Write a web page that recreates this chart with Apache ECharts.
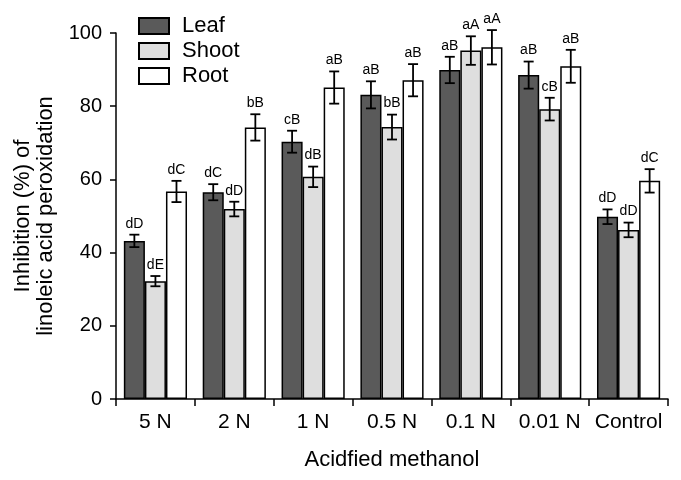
<!DOCTYPE html>
<html>
<head>
<meta charset="utf-8">
<script src="https://cdn.jsdelivr.net/npm/echarts@6/dist/echarts.min.js"></script>
<style>html,body{margin:0;padding:0;background:#fff;}#c{width:681px;height:480px;}</style>
</head>
<body>
<div id="c"></div>
<script>
var categories = ['5 N', '2 N', '1 N', '0.5 N', '0.1 N', '0.01 N', 'Control'];
var seriesNames = ['Leaf', 'Shoot', 'Root'];
var leafValues  = [43.2, 56.5, 70.3, 83.1, 89.9, 88.5, 49.8];
var leafErr     = [1.7, 2.2, 3.0, 3.7, 3.6, 3.7, 2.0];
var leafLetters = ['dD', 'dC', 'cB', 'aB', 'aB', 'aB', 'dD'];
var shootValues  = [32.2, 51.9, 60.7, 74.3, 95.2, 79.2, 46.2];
var shootErr     = [1.4, 2.0, 2.8, 3.4, 3.9, 3.1, 2.0];
var shootLetters = ['dE', 'dD', 'dB', 'bB', 'aA', 'cB', 'dD'];
var rootValues  = [56.7, 74.2, 85.1, 87.1, 96.1, 90.9, 59.6];
var rootErr     = [2.9, 3.6, 4.4, 4.4, 4.7, 4.5, 3.2];
var rootLetters = ['dC', 'bB', 'aB', 'aB', 'aA', 'aB', 'dC'];
var yTicks = [0, 20, 40, 60, 80, 100];

var FONT = 'Liberation Sans, Arial, Helvetica, sans-serif';
var BAR_FRAC = 0.267;
var colors = ['#5a5a5a', '#dedede', '#ffffff'];
var vals = [leafValues, shootValues, rootValues];
var errs = [leafErr, shootErr, rootErr];
var lets = [leafLetters, shootLetters, rootLetters];

function makeRender(k) {
  return function (params, api) {
    var ci = api.value(0), v = api.value(1), e = api.value(2);
    var idx = params.dataIndex;
    var band = api.size([1, 0])[0];
    var bw = band * BAR_FRAC;
    var c = api.coord([ci, v]);
    var x = c[0] + (k - 1) * bw;
    var top = api.coord([ci, v + e])[1];
    var bot = api.coord([ci, v - e])[1];
    var cap = 5;
    var ls = {stroke: '#000', lineWidth: 1.8};
    return {
      type: 'group',
      children: [
        {type: 'line', shape: {x1: x, y1: top, x2: x, y2: bot}, style: ls},
        {type: 'line', shape: {x1: x - cap, y1: top, x2: x + cap, y2: top}, style: ls},
        {type: 'line', shape: {x1: x - cap, y1: bot, x2: x + cap, y2: bot}, style: ls},
        {type: 'text', style: {text: lets[k][idx], x: x, y: top - 4, align: 'center', verticalAlign: 'bottom',
          font: '14px ' + FONT, fill: '#000'}}
      ]
    };
  };
}

var series = [];
for (var k = 0; k < 3; k++) {
  series.push({
    name: seriesNames[k], type: 'bar', data: vals[k],
    barWidth: (BAR_FRAC * 100) + '%', barGap: '0%',
    itemStyle: {color: colors[k], borderColor: '#000', borderWidth: 1.5},
    emphasis: {disabled: true}
  });
}
for (var k2 = 0; k2 < 3; k2++) {
  var d = [];
  for (var i = 0; i < categories.length; i++) d.push([i, vals[k2][i], errs[k2][i]]);
  series.push({
    type: 'custom', renderItem: makeRender(k2), data: d, z: 10,
    encode: {x: 0, y: 1}, silent: true
  });
}

var chart = echarts.init(document.getElementById('c'), null, {renderer: 'canvas'});
chart.setOption({
  animation: false,
  backgroundColor: '#fff',
  textStyle: {fontFamily: FONT, color: '#000'},
  legend: {
    data: seriesNames, orient: 'vertical', left: 133, top: 10,
    itemWidth: 30, itemHeight: 16, itemGap: 3,
    textStyle: {fontSize: 22, fontFamily: FONT, color: '#000', lineHeight: 22, padding: [0, 0, 0, 8]},
    icon: 'rect'
  },
  grid: {left: 116, right: 13, top: 33, bottom: 81},
  xAxis: {
    type: 'category', data: categories,
    name: 'Acidfied methanol', nameLocation: 'middle', nameGap: 50,
    nameTextStyle: {fontSize: 22, fontFamily: FONT, color: '#000'},
    axisLine: {lineStyle: {color: '#000', width: 1.5}},
    axisTick: {show: true, interval: 0, length: 7, lineStyle: {color: '#000', width: 1.5}},
    axisLabel: {interval: 0, fontSize: 21, fontFamily: FONT, color: '#000', margin: 13}
  },
  yAxis: {
    type: 'value', min: yTicks[0], max: yTicks[yTicks.length - 1], interval: 20,
    name: 'Inhibition (%) of\nlinoleic acid peroxidation', nameLocation: 'middle', nameGap: 58,
    nameTextStyle: {fontSize: 22, fontFamily: FONT, color: '#000', lineHeight: 23},
    axisLine: {show: true, lineStyle: {color: '#000', width: 1.5}},
    axisTick: {show: true, length: 6, lineStyle: {color: '#000', width: 1.5}},
    axisLabel: {fontSize: 20, fontFamily: FONT, color: '#000', margin: 14},
    splitLine: {show: false}
  },
  series: series
});
</script>
</body>
</html>
